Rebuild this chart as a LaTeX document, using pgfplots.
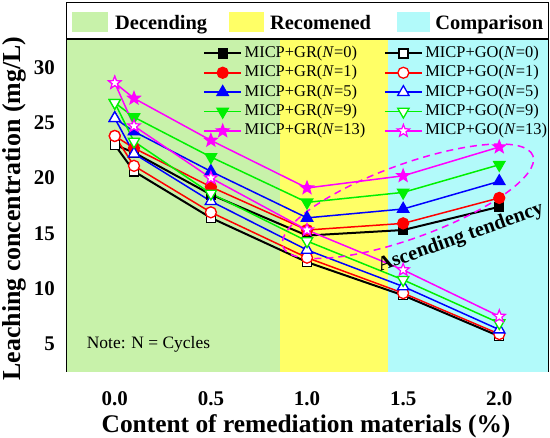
\documentclass[border=0pt]{standalone}
\usepackage{fontspec}
\setmainfont{Liberation Serif}
\usepackage{pgfplots}
\usepackage{pgfplotstable}
\pgfplotsset{compat=1.18}
\usetikzlibrary{shapes.geometric}

\definecolor{bggreen}{RGB}{200,242,170}
\definecolor{bgyellow}{RGB}{255,255,102}
\definecolor{bgcyan}{RGB}{178,250,250}
\definecolor{sgreen}{RGB}{0,240,0}
\definecolor{smag}{RGB}{255,0,255}
\definecolor{sred}{RGB}{255,0,0}
\definecolor{sblue}{RGB}{0,0,255}

% filled five-point star
\pgfdeclareplotmark{pstar}{%
  \pgfpathmoveto{\pgfpointpolar{90}{\pgfplotmarksize}}%
  \pgfpathlineto{\pgfpointpolar{126}{0.42\pgfplotmarksize}}%
  \pgfpathlineto{\pgfpointpolar{162}{\pgfplotmarksize}}%
  \pgfpathlineto{\pgfpointpolar{198}{0.42\pgfplotmarksize}}%
  \pgfpathlineto{\pgfpointpolar{234}{\pgfplotmarksize}}%
  \pgfpathlineto{\pgfpointpolar{270}{0.42\pgfplotmarksize}}%
  \pgfpathlineto{\pgfpointpolar{306}{\pgfplotmarksize}}%
  \pgfpathlineto{\pgfpointpolar{342}{0.42\pgfplotmarksize}}%
  \pgfpathlineto{\pgfpointpolar{18}{\pgfplotmarksize}}%
  \pgfpathlineto{\pgfpointpolar{54}{0.42\pgfplotmarksize}}%
  \pgfpathclose
  \pgfusepathqfillstroke
}

\pgfplotstableread{
x   GR0  GO0  GR1  GO1  GR5  GO5  GR9  GO9  GR13 GO13
0   23.0 23.0 23.8 23.8 25.4 25.4 26.8 26.8 28.6 28.6
0.1 22.3 20.6 22.7 21.1 24.2 22.2 25.5 23.3 27.2 24.7
0.5 18.5 16.4 19.2 16.9 20.6 17.9 21.9 18.6 23.4 20.0
1.0 14.8 12.4 15.3 12.8 16.4 13.5 17.8 14.3 19.1 15.3
1.5 15.3  9.4 15.9  9.6 17.2 10.2 18.7 10.8 20.2 11.7
2.0 17.4  5.7 18.2  5.9 19.7  6.3 21.2  6.9 22.8  7.5
}\data

\begin{document}
\begin{tikzpicture}
\begin{axis}[
  scale only axis, width=481.6bp, height=332.7bp,
  xmin=-0.25, xmax=2.255, ymin=2.5, ymax=32.56,
  clip=false,
  axis line style={line width=1.5bp},
  tick pos=left, tick align=inside,
  major tick length=8bp, minor tick length=5bp,
  every tick/.style={black, line width=1.3bp},
  xtick={0,0.5,1,1.5,2}, minor x tick num=1,
  ytick={5,10,15,20,25,30}, minor y tick num=1,
  /pgf/number format/assume math mode=true,
  xticklabel style={/pgf/number format/.cd, fixed, fixed zerofill, precision=1, /tikz/.cd,
    font=\fontsize{21}{25}\selectfont\bfseries, anchor=base, yshift=-33.5bp},
  yticklabel style={font=\fontsize{21}{25}\selectfont\bfseries, anchor=east, inner sep=0pt, xshift=-11.7bp},
  xlabel={Content of remediation materials (\%)},
  ylabel={Leaching concentration (mg/L)},
  xlabel style={font=\fontsize{25.5}{30}\selectfont\bfseries, at={(axis description cs:0.497,0)}, anchor=base, yshift=-60.3bp, inner sep=0pt},
  ylabel style={font=\fontsize{26}{30}\selectfont\bfseries, at={(axis description cs:-0.108,0.49)}, anchor=center, inner sep=0pt},
  legend columns=2,
  legend cell align=left,
  legend image code/.code={\draw[mark repeat=2,mark phase=2] plot coordinates {(0bp,0bp) (18.5bp,0bp) (37bp,0bp)};},
  legend style={at={(0.283,0.983)}, anchor=north west, draw=none, fill=none,
    font=\fontsize{16.5}{19}\selectfont, inner sep=0pt, row sep=2.4bp,
    nodes={inner xsep=2.5bp, inner ysep=1bp, text height=11.5bp, text depth=3.5bp},
    /tikz/every even column/.append style={column sep=16bp}},
]
% background regions
\fill[bggreen] (axis cs:-0.25,2.5) rectangle (axis cs:0.86,32.56);
\fill[bgyellow] (axis cs:0.86,2.5) rectangle (axis cs:1.42,32.56);
\fill[bgcyan] (axis cs:1.42,2.5) rectangle (axis cs:2.255,32.56);

\addplot[black, line width=2bp, mark=square*, mark size=4.5bp, mark options={fill=black, line width=1.3bp}] table[y=GR0]{\data};
\addlegendentry{MICP+GR(\textit{N}=0)}
\addplot[black, line width=2bp, mark=square*, mark size=4.5bp, mark options={fill=white, line width=1.3bp}] table[y=GO0]{\data};
\addlegendentry{MICP+GO(\textit{N}=0)}
\addplot[sred, line width=1.5bp, mark=*, mark size=5.5bp, mark options={fill=sred, line width=1.3bp}] table[y=GR1]{\data};
\addlegendentry{MICP+GR(\textit{N}=1)}
\addplot[sred, line width=1.5bp, mark=*, mark size=5.5bp, mark options={fill=white, line width=1.3bp}] table[y=GO1]{\data};
\addlegendentry{MICP+GO(\textit{N}=1)}
\addplot[sblue, line width=1.5bp, mark=triangle*, mark size=6.5bp, mark options={fill=sblue, line width=1.3bp}] table[y=GR5]{\data};
\addlegendentry{MICP+GR(\textit{N}=5)}
\addplot[sblue, line width=1.5bp, mark=triangle*, mark size=6.5bp, mark options={fill=white, line width=1.3bp}] table[y=GO5]{\data};
\addlegendentry{MICP+GO(\textit{N}=5)}
\addplot[sgreen, line width=1.5bp, mark=triangle*, mark size=6.5bp, mark options={fill=sgreen, rotate=180, line width=1.3bp}] table[y=GR9]{\data};
\addlegendentry{MICP+GR(\textit{N}=9)}
\addplot[sgreen, line width=1.5bp, mark=triangle*, mark size=6.5bp, mark options={fill=white, rotate=180, line width=1.3bp}] table[y=GO9]{\data};
\addlegendentry{MICP+GO(\textit{N}=9)}
\addplot[smag, line width=1.5bp, mark=pstar, mark size=6.5bp, mark options={fill=smag, line width=1.2bp}] table[y=GR13]{\data};
\addlegendentry{MICP+GR(\textit{N}=13)}
\addplot[smag, line width=1.5bp, mark=pstar, mark size=6.5bp, mark options={fill=white, line width=1.2bp}] table[y=GO13]{\data};
\addlegendentry{MICP+GO(\textit{N}=13)}

% annotations
\node[draw=smag, dash pattern=on 7bp off 5bp, line width=1.5bp, ellipse,
  minimum width=266bp, minimum height=74bp, inner sep=0pt, rotate=20] at (axis cs:1.525,17.9) {};
\node[rotate=19.5, font=\fontsize{20.5}{24}\selectfont\bfseries, inner sep=0pt] at (axis cs:1.80,14.58) {Ascending tendency};
\node[anchor=west, inner sep=0pt, font=\fontsize{17.5}{20}\selectfont] at (axis cs:-0.146,5) {Note: N = Cycles};

% header key box
\draw[line width=1.5bp, fill=white] (rel axis cs:0,1) rectangle (rel axis cs:1,1.1091);
\fill[bggreen] (rel axis cs:0.0104,1.022) rectangle (rel axis cs:0.0864,1.082);
\fill[bgyellow] (rel axis cs:0.337,1.022) rectangle (rel axis cs:0.410,1.082);
\fill[bgcyan] (rel axis cs:0.685,1.022) rectangle (rel axis cs:0.754,1.082);
\node[anchor=base west, inner sep=0pt, font=\fontsize{20.5}{24}\selectfont\bfseries] at (rel axis cs:0.1003,1.030) {Decending};
\node[anchor=base west, inner sep=0pt, font=\fontsize{20.5}{24}\selectfont\bfseries] at (rel axis cs:0.422,1.030) {Recomened};
\node[anchor=base west, inner sep=0pt, font=\fontsize{20.5}{24}\selectfont\bfseries] at (rel axis cs:0.765,1.030) {Comparison};

\coordinate (bl) at (rel axis cs:0,0);
\coordinate (tr) at (rel axis cs:1,1);
\end{axis}
\path (bl) ++(-66.7bp,-66.3bp) coordinate (A);
\path (tr) ++(1.7bp,39bp) coordinate (B);
\pgfresetboundingbox
\path[use as bounding box] (A) rectangle (B);
\end{tikzpicture}
\end{document}
